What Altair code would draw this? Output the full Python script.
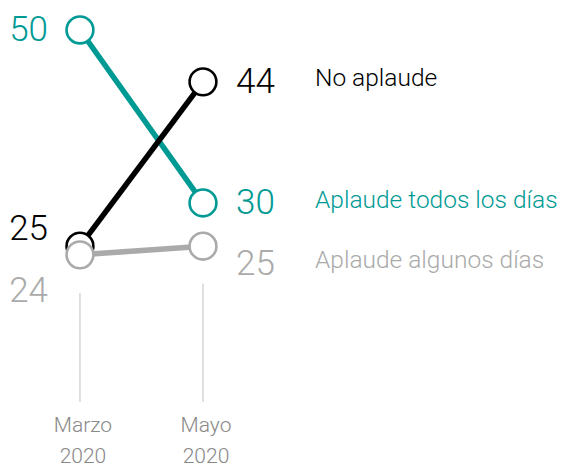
import altair as alt
import pandas as pd

periods = ["Marzo 2020", "Mayo 2020"]
period_idx = [0, 1]
series = ["No aplaude", "Aplaude todos los días", "Aplaude algunos días"]
values_marzo = [25, 50, 24]
values_mayo = [44, 30, 25]
colors = ["#000000", "#009a94", "#aaaaaa"]
rule_top = [19.6, 20.7]
rule_bottom = [7.0, 7.0]
period_label_y = 5.5

FONT = "Roboto"

rows = []
for s, a, b in zip(series, values_marzo, values_mayo):
    rows.append({"serie": s, "x": period_idx[0], "v": a})
    rows.append({"serie": s, "x": period_idx[1], "v": b})
df = pd.DataFrame(rows)

rules = pd.DataFrame({"x": period_idx, "top": rule_top, "bottom": rule_bottom,
                      "label": [p.replace(" ", "\n") for p in periods],
                      "ly": [period_label_y] * 2})

W, H = 551, 460
xs = alt.Scale(domain=[-0.585, 3.894], nice=False, zero=False)
ys = alt.Scale(domain=[-0.64, 52.54], nice=False, zero=False)
X = alt.X("x:Q", scale=xs, axis=None)
Y = alt.Y("v:Q", scale=ys, axis=None)

base = alt.Chart(df)
layers = []

# rules and period labels
layers.append(alt.Chart(rules).mark_rule(color="#cccccc", strokeWidth=1.2).encode(
    x=alt.X("x:Q", scale=xs, axis=None),
    y=alt.Y("top:Q", scale=ys, axis=None), y2="bottom:Q"))
layers.append(alt.Chart(rules).mark_text(font=FONT, fontWeight=300, fontSize=21, color="#888888",
                                         baseline="top", lineBreak="\n", lineHeight=31, dx=3).encode(
    x=alt.X("x:Q", scale=xs, axis=None),
    y=alt.Y("ly:Q", scale=ys, axis=None), text="label:N"))

# lines: gray, teal, black
for i in [2, 1, 0]:
    layers.append(base.transform_filter(alt.datum.serie == series[i]).mark_line(
        color=colors[i], strokeWidth=5.5).encode(x=X, y=Y))
# circles: black, teal, gray
for i in [0, 1, 2]:
    layers.append(base.transform_filter(alt.datum.serie == series[i]).mark_point(
        shape="circle", size=720, filled=False, fill="white", fillOpacity=1,
        stroke=colors[i], strokeWidth=2.6, opacity=1).encode(x=X, y=Y))

# value labels
def vlabel(i, xi, align, dx, dy):
    return base.transform_filter(
        (alt.datum.serie == series[i]) & (alt.datum.x == xi)).mark_text(
        font=FONT, fontWeight=300, fontSize=35, color=colors[i], align=align, baseline="middle",
        dx=dx, dy=dy).encode(x=X, y=Y, text="v:Q")

layers += [
    vlabel(1, 0, "right", -32, 0),
    vlabel(0, 0, "right", -32, -17),
    vlabel(2, 0, "right", -32, 36),
    vlabel(0, 1, "left", 33, 0),
    vlabel(1, 1, "left", 33, 0),
    vlabel(2, 1, "left", 33, 18),
]

# series labels
def slabel(i, dy):
    return base.transform_filter(
        (alt.datum.serie == series[i]) & (alt.datum.x == 1)).mark_text(
        font=FONT, fontWeight=300, fontSize=24.5, color=colors[i], align="left", baseline="middle",
        dx=112, dy=dy).encode(x=X, y=Y, text="serie:N")

layers += [slabel(0, -3), slabel(1, -2), slabel(2, 15)]

chart = alt.layer(*layers).properties(
    width=W, height=H, padding=0, autosize=alt.AutoSizeParams(type="none")
).configure_view(stroke=None)

chart.save("out.html", embed_options={"renderer": "svg", "actions": False})
